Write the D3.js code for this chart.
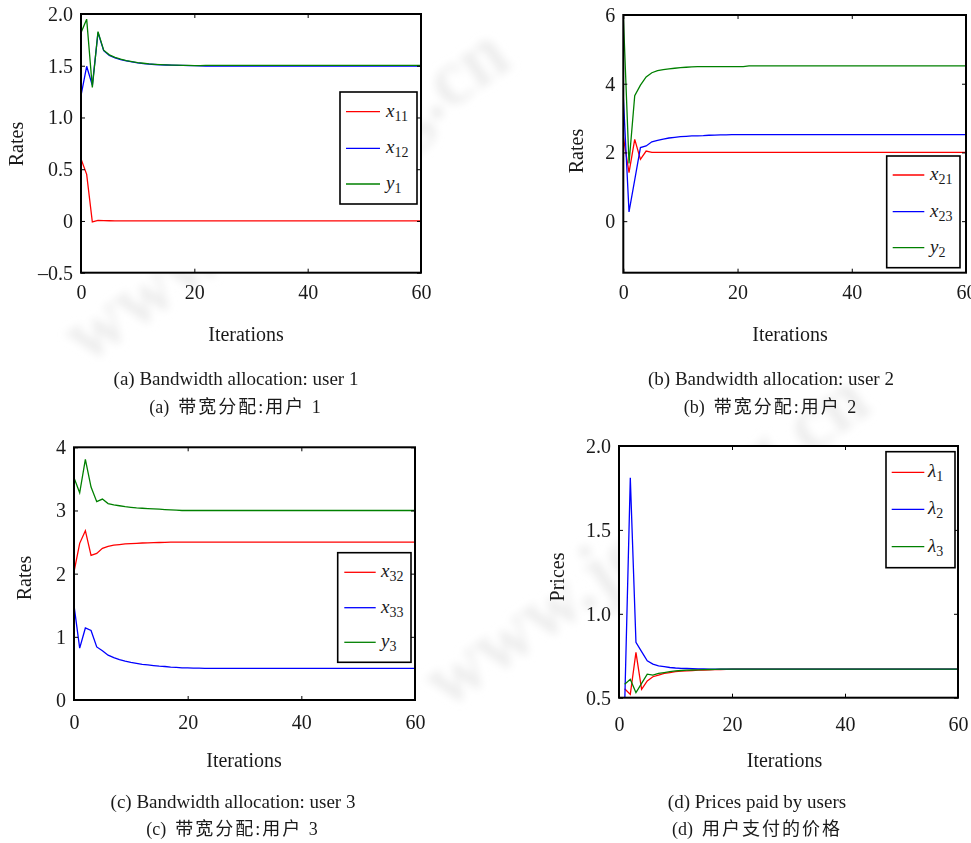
<!DOCTYPE html>
<html>
<head>
<meta charset="utf-8">
<script src="https://cdn.jsdelivr.net/npm/d3@7"></script>
<style>
body { margin: 0; background: #fff; }
text { font-family: "Liberation Serif", "Times New Roman", serif; fill: #1a1a1a; }
.cn { font-family: "Liberation Serif", "Noto Sans CJK SC", serif; white-space: pre; }
</style>
</head>
<body>
<svg id="fig" width="971" height="843"></svg>
<script>

// iterations on the x axis
var itersABC = d3.range(0, 61);
var itersD = d3.range(1, 61);
var xTicks = [0, 20, 40, 60];

// (a) user 1
var a_x11 = [0.60, 0.45, -0.01, 0.005, 0.003, 0.002, 0.001, 0, 0, 0,
  0, 0, 0, 0, 0, 0, 0, 0, 0, 0,
  0, 0, 0, 0, 0, 0, 0, 0, 0, 0,
  0, 0, 0, 0, 0, 0, 0, 0, 0, 0,
  0, 0, 0, 0, 0, 0, 0, 0, 0, 0,
  0, 0, 0, 0, 0, 0, 0, 0, 0, 0,
  0];
var a_x12 = [1.21, 1.495, 1.31, 1.82, 1.645, 1.60, 1.575, 1.56, 1.548, 1.537,
  1.528, 1.521, 1.516, 1.512, 1.509, 1.507, 1.505, 1.504, 1.503, 1.502,
  1.501, 1.50, 1.497, 1.497, 1.497, 1.497, 1.497, 1.497, 1.497, 1.497,
  1.497, 1.497, 1.497, 1.497, 1.497, 1.497, 1.497, 1.497, 1.497, 1.497,
  1.497, 1.497, 1.497, 1.497, 1.497, 1.497, 1.497, 1.497, 1.497, 1.497,
  1.497, 1.497, 1.497, 1.497, 1.497, 1.497, 1.497, 1.497, 1.497, 1.497,
  1.497];
var a_y1 = [1.82, 1.95, 1.29, 1.83, 1.65, 1.605, 1.58, 1.563, 1.55, 1.54,
  1.531, 1.524, 1.518, 1.514, 1.511, 1.508, 1.506, 1.505, 1.504, 1.503,
  1.502, 1.501, 1.503, 1.503, 1.503, 1.503, 1.503, 1.503, 1.503, 1.503,
  1.503, 1.503, 1.503, 1.503, 1.503, 1.503, 1.503, 1.503, 1.503, 1.503,
  1.503, 1.503, 1.503, 1.503, 1.503, 1.503, 1.503, 1.503, 1.503, 1.503,
  1.503, 1.503, 1.503, 1.503, 1.503, 1.503, 1.503, 1.503, 1.503, 1.503,
  1.503];

// (b) user 2
var b_x21 = [2.46, 1.41, 2.38, 1.80, 2.04, 2.0, 2.0, 2.0, 2.0, 2.0,
  2.0, 2.0, 2.0, 2.0, 2.0, 2.0, 2.0, 2.0, 2.0, 2.0,
  2.0, 2.0, 2.0, 2.0, 2.0, 2.0, 2.0, 2.0, 2.0, 2.0,
  2.0, 2.0, 2.0, 2.0, 2.0, 2.0, 2.0, 2.0, 2.0, 2.0,
  2.0, 2.0, 2.0, 2.0, 2.0, 2.0, 2.0, 2.0, 2.0, 2.0,
  2.0, 2.0, 2.0, 2.0, 2.0, 2.0, 2.0, 2.0, 2.0, 2.0,
  2.0];
var b_x23 = [3.62, 0.27, 1.2, 2.14, 2.19, 2.31, 2.35, 2.39, 2.42, 2.44,
  2.46, 2.47, 2.48, 2.485, 2.49, 2.50, 2.505, 2.51, 2.513, 2.516,
  2.52, 2.52, 2.52, 2.52, 2.52, 2.52, 2.52, 2.52, 2.52, 2.52,
  2.52, 2.52, 2.52, 2.52, 2.52, 2.52, 2.52, 2.52, 2.52, 2.52,
  2.52, 2.52, 2.52, 2.52, 2.52, 2.52, 2.52, 2.52, 2.52, 2.52,
  2.52, 2.52, 2.52, 2.52, 2.52, 2.52, 2.52, 2.52, 2.52, 2.52,
  2.52];
var b_y2 = [6.0, 1.68, 3.65, 3.96, 4.2, 4.32, 4.38, 4.41, 4.43, 4.45,
  4.47, 4.48, 4.49, 4.495, 4.50, 4.50, 4.50, 4.50, 4.50, 4.50,
  4.50, 4.50, 4.52, 4.52, 4.52, 4.52, 4.52, 4.52, 4.52, 4.52,
  4.52, 4.52, 4.52, 4.52, 4.52, 4.52, 4.52, 4.52, 4.52, 4.52,
  4.52, 4.52, 4.52, 4.52, 4.52, 4.52, 4.52, 4.52, 4.52, 4.52,
  4.52, 4.52, 4.52, 4.52, 4.52, 4.52, 4.52, 4.52, 4.52, 4.52,
  4.52];

// (c) user 3
var c_x32 = [2.03, 2.48, 2.68, 2.29, 2.32, 2.40, 2.43, 2.45, 2.46, 2.47,
  2.475, 2.48, 2.485, 2.488, 2.49, 2.493, 2.495, 2.50, 2.50, 2.50,
  2.50, 2.50, 2.50, 2.50, 2.50, 2.50, 2.50, 2.50, 2.50, 2.50,
  2.50, 2.50, 2.50, 2.50, 2.50, 2.50, 2.50, 2.50, 2.50, 2.50,
  2.50, 2.50, 2.50, 2.50, 2.50, 2.50, 2.50, 2.50, 2.50, 2.50,
  2.50, 2.50, 2.50, 2.50, 2.50, 2.50, 2.50, 2.50, 2.50, 2.50,
  2.50];
var c_x33 = [1.50, 0.82, 1.14, 1.10, 0.84, 0.78, 0.71, 0.67, 0.64, 0.615,
  0.595, 0.58, 0.565, 0.555, 0.545, 0.535, 0.53, 0.52, 0.515, 0.51,
  0.507, 0.505, 0.503, 0.501, 0.50, 0.50, 0.50, 0.50, 0.50, 0.50,
  0.50, 0.50, 0.50, 0.50, 0.50, 0.50, 0.50, 0.50, 0.50, 0.50,
  0.50, 0.50, 0.50, 0.50, 0.50, 0.50, 0.50, 0.50, 0.50, 0.50,
  0.50, 0.50, 0.50, 0.50, 0.50, 0.50, 0.50, 0.50, 0.50, 0.50,
  0.50];
var c_y3 = [3.52, 3.28, 3.81, 3.37, 3.14, 3.18, 3.11, 3.09, 3.075, 3.06,
  3.05, 3.04, 3.035, 3.03, 3.025, 3.02, 3.015, 3.01, 3.005, 3.0,
  3.0, 3.0, 3.0, 3.0, 3.0, 3.0, 3.0, 3.0, 3.0, 3.0,
  3.0, 3.0, 3.0, 3.0, 3.0, 3.0, 3.0, 3.0, 3.0, 3.0,
  3.0, 3.0, 3.0, 3.0, 3.0, 3.0, 3.0, 3.0, 3.0, 3.0,
  3.0, 3.0, 3.0, 3.0, 3.0, 3.0, 3.0, 3.0, 3.0, 3.0,
  3.0];

// (d) prices, iterations 1..60
var d_l1 = [0.553, 0.52, 0.77, 0.55, 0.60, 0.625, 0.635, 0.645, 0.65, 0.655,
  0.658, 0.66, 0.662, 0.664, 0.665, 0.666, 0.667, 0.668, 0.669, 0.67,
  0.67, 0.67, 0.67, 0.67, 0.67, 0.67, 0.67, 0.67, 0.67, 0.67,
  0.67, 0.67, 0.67, 0.67, 0.67, 0.67, 0.67, 0.67, 0.67, 0.67,
  0.67, 0.67, 0.67, 0.67, 0.67, 0.67, 0.67, 0.67, 0.67, 0.67,
  0.67, 0.67, 0.67, 0.67, 0.67, 0.67, 0.67, 0.67, 0.67, 0.67];
var d_l2 = [0.45, 1.81, 0.83, 0.775, 0.72, 0.70, 0.69, 0.685, 0.68, 0.677,
  0.675, 0.674, 0.673, 0.672, 0.671, 0.67, 0.67, 0.67, 0.67, 0.67,
  0.67, 0.67, 0.67, 0.67, 0.67, 0.67, 0.67, 0.67, 0.67, 0.67,
  0.67, 0.67, 0.67, 0.67, 0.67, 0.67, 0.67, 0.67, 0.67, 0.67,
  0.67, 0.67, 0.67, 0.67, 0.67, 0.67, 0.67, 0.67, 0.67, 0.67,
  0.67, 0.67, 0.67, 0.67, 0.67, 0.67, 0.67, 0.67, 0.67, 0.67];
var d_l3 = [0.58, 0.61, 0.53, 0.585, 0.64, 0.635, 0.645, 0.65, 0.655, 0.66,
  0.662, 0.664, 0.665, 0.666, 0.667, 0.668, 0.669, 0.67, 0.67, 0.67,
  0.67, 0.67, 0.67, 0.67, 0.67, 0.67, 0.67, 0.67, 0.67, 0.67,
  0.67, 0.67, 0.67, 0.67, 0.67, 0.67, 0.67, 0.67, 0.67, 0.67,
  0.67, 0.67, 0.67, 0.67, 0.67, 0.67, 0.67, 0.67, 0.67, 0.67,
  0.67, 0.67, 0.67, 0.67, 0.67, 0.67, 0.67, 0.67, 0.67, 0.67];

var RED = "#ff0000", BLUE = "#0000ff", GREEN = "#008000";

function fmt1(d) { return d === 0 ? "0" : d.toFixed(1).replace("-", "\u2013"); }
function fmt0(d) { return String(d); }

var panels = [
  { id: "a", box: [81, 14, 421, 272.7], yDomain: [-0.5, 2], yTicks: [-0.5, 0, 0.5, 1, 1.5, 2], fmt: fmt1,
    iters: itersABC, xPad: 12, ylab: { x: 16, y: 144, t: "Rates" }, xlab: { x: 246, y: 341 },
    cap: { x: 236, y1: 385, y2: 413, en: "(a) Bandwidth allocation: user 1", pre: "(a)  ", cn: "带宽分配:用户 1" },
    legend: { box: [340, 92, 417, 204], rows: [111.7, 148.3, 184], line: [346, 380], tx: 386 },
    series: [
      { v: a_x11, c: RED, n: "x", s: "11" },
      { v: a_x12, c: BLUE, n: "x", s: "12" },
      { v: a_y1, c: GREEN, n: "y", s: "1" }] },
  { id: "b", box: [623.3, 15, 966, 272.7], yDomain: [-1.5, 6], yTicks: [0, 2, 4, 6], fmt: fmt0,
    iters: itersABC, xPad: 12, ylab: { x: 576, y: 151, t: "Rates" }, xlab: { x: 790, y: 341 },
    cap: { x: 771, y1: 385, y2: 413, en: "(b) Bandwidth allocation: user 2", pre: "(b)  ", cn: "带宽分配:用户 2" },
    legend: { box: [886.7, 156, 960, 267.7], rows: [175, 211.7, 247.7], line: [892.7, 924.3], tx: 930 },
    series: [
      { v: b_x21, c: RED, n: "x", s: "21" },
      { v: b_x23, c: BLUE, n: "x", s: "23" },
      { v: b_y2, c: GREEN, n: "y", s: "2" }] },
  { id: "c", box: [74, 447.3, 415, 700], yDomain: [0, 4], yTicks: [0, 1, 2, 3, 4], fmt: fmt0,
    iters: itersABC, xPad: 15, ylab: { x: 24, y: 578, t: "Rates" }, xlab: { x: 244, y: 767 },
    cap: { x: 233, y1: 808, y2: 835, en: "(c) Bandwidth allocation: user 3", pre: "(c)  ", cn: "带宽分配:用户 3" },
    legend: { box: [337.7, 552.7, 411, 662.3], rows: [572.3, 607.7, 642.3], line: [344.3, 375.7], tx: 381 },
    series: [
      { v: c_x32, c: RED, n: "x", s: "32" },
      { v: c_x33, c: BLUE, n: "x", s: "33" },
      { v: c_y3, c: GREEN, n: "y", s: "3" }] },
  { id: "d", box: [619, 446, 958, 697.7], yDomain: [0.5, 2], yTicks: [0.5, 1, 1.5, 2], fmt: fmt1,
    iters: itersD, xPad: 19, ylab: { x: 557, y: 577, t: "Prices" }, xlab: { x: 784.5, y: 767 },
    cap: { x: 757, y1: 808, y2: 835, en: "(d) Prices paid by users", pre: "(d)  ", cn: "用户支付的价格" },
    legend: { box: [886, 451.7, 955, 567.7], rows: [472.3, 509.3, 546.7], line: [891.7, 924.3], tx: 928 },
    series: [
      { v: d_l1, c: RED, n: "\u03bb", s: "1" },
      { v: d_l2, c: BLUE, n: "\u03bb", s: "2" },
      { v: d_l3, c: GREEN, n: "\u03bb", s: "3" }] }
];

var svg = d3.select("#fig");
var defs = svg.append("defs");
defs.append("filter").attr("id", "blur").append("feGaussianBlur").attr("stdDeviation", 4);

// faint blurred watermark behind the panels
var wm = svg.append("g").attr("filter", "url(#blur)");
wm.append("text")
  .attr("transform", "translate(300,215) rotate(-35)")
  .attr("text-anchor", "middle")
  .style("font-size", "80px").style("font-weight", "bold").style("fill", "#ededed")
  .text("www.jos.org.cn");
wm.append("text")
  .attr("transform", "translate(660,560) rotate(-35)")
  .attr("text-anchor", "middle")
  .style("font-size", "80px").style("font-weight", "bold").style("fill", "#ededed")
  .text("www.jos.org.cn");

function drawPanel(p) {
  var x0 = p.box[0], y0 = p.box[1], x1 = p.box[2], y1 = p.box[3];
  var x = d3.scaleLinear().domain([0, 60]).range([x0, x1]);
  var y = d3.scaleLinear().domain(p.yDomain).range([y1, y0]);
  var g = svg.append("g").attr("class", "panel-" + p.id);

  g.append("rect").attr("x", x0).attr("y", y0).attr("width", x1 - x0).attr("height", y1 - y0)
    .attr("fill", "#fff");

  defs.append("clipPath").attr("id", "clip-" + p.id)
    .append("rect").attr("x", x0).attr("y", y0).attr("width", x1 - x0).attr("height", y1 - y0);

  var line = d3.line()
    .x(function (d, i) { return x(p.iters[i]); })
    .y(function (d) { return y(d); });

  var lines = g.append("g").attr("clip-path", "url(#clip-" + p.id + ")");
  p.series.forEach(function (s) {
    lines.append("path")
      .attr("d", line(s.v))
      .attr("fill", "none")
      .attr("stroke", s.c)
      .attr("stroke-width", 1.3);
  });

  // axes, ticks pointing inward on all four sides
  var left = g.append("g").attr("transform", "translate(" + x0 + ",0)")
    .call(d3.axisLeft(y).tickValues(p.yTicks).tickFormat(p.fmt).tickSizeInner(-4).tickSizeOuter(0).tickPadding(8));
  var bottom = g.append("g").attr("transform", "translate(0," + y1 + ")")
    .call(d3.axisBottom(x).tickValues(xTicks).tickFormat(fmt0).tickSizeInner(-4).tickSizeOuter(0).tickPadding(p.xPad));
  var top = g.append("g").attr("transform", "translate(0," + y0 + ")")
    .call(d3.axisTop(x).tickValues(xTicks).tickFormat("").tickSizeInner(-4).tickSizeOuter(0));
  var right = g.append("g").attr("transform", "translate(" + x1 + ",0)")
    .call(d3.axisRight(y).tickValues(p.yTicks).tickFormat("").tickSizeInner(-4).tickSizeOuter(0));

  [left, bottom, top, right].forEach(function (ax) {
    ax.select(".domain").remove();
    ax.selectAll(".tick line").attr("stroke", "#000").attr("stroke-width", 1);
    ax.selectAll(".tick text").style("font-size", "20px").style("font-family", "Liberation Serif").attr("fill", "#1a1a1a");
  });

  g.append("rect").attr("x", x0).attr("y", y0).attr("width", x1 - x0).attr("height", y1 - y0)
    .attr("fill", "none").attr("stroke", "#000").attr("stroke-width", 2);

  // legend
  var L = p.legend;
  var lg = g.append("g");
  lg.append("rect").attr("x", L.box[0]).attr("y", L.box[1])
    .attr("width", L.box[2] - L.box[0]).attr("height", L.box[3] - L.box[1])
    .attr("fill", "#fff").attr("stroke", "#000").attr("stroke-width", 1.6);
  p.series.forEach(function (s, i) {
    lg.append("line").attr("x1", L.line[0]).attr("x2", L.line[1])
      .attr("y1", L.rows[i]).attr("y2", L.rows[i])
      .attr("stroke", s.c).attr("stroke-width", 1.3);
    var t = lg.append("text").attr("x", L.tx).attr("y", L.rows[i] + 5).style("font-size", "19px");
    t.append("tspan").style("font-style", "italic").text(s.n);
    t.append("tspan").attr("dy", 4).style("font-size", "14px").text(s.s);
  });

  // axis titles and captions
  g.append("text")
    .attr("transform", "translate(" + p.ylab.x + "," + p.ylab.y + ") rotate(-90)")
    .attr("text-anchor", "middle").attr("dy", "0.35em")
    .style("font-size", "20px").text(p.ylab.t);
  g.append("text").attr("x", p.xlab.x).attr("y", p.xlab.y)
    .attr("text-anchor", "middle").style("font-size", "20px").text("Iterations");
  g.append("text").attr("x", p.cap.x).attr("y", p.cap.y1)
    .attr("text-anchor", "middle").style("font-size", "19px").text(p.cap.en);
  var cn = g.append("text").attr("class", "cn").attr("x", p.cap.x).attr("y", p.cap.y2)
    .attr("text-anchor", "middle").style("font-size", "18px");
  cn.append("tspan").text(p.cap.pre);
  cn.append("tspan").style("letter-spacing", "2px").text(p.cap.cn);
}

panels.forEach(drawPanel);
</script>
</body>
</html>
